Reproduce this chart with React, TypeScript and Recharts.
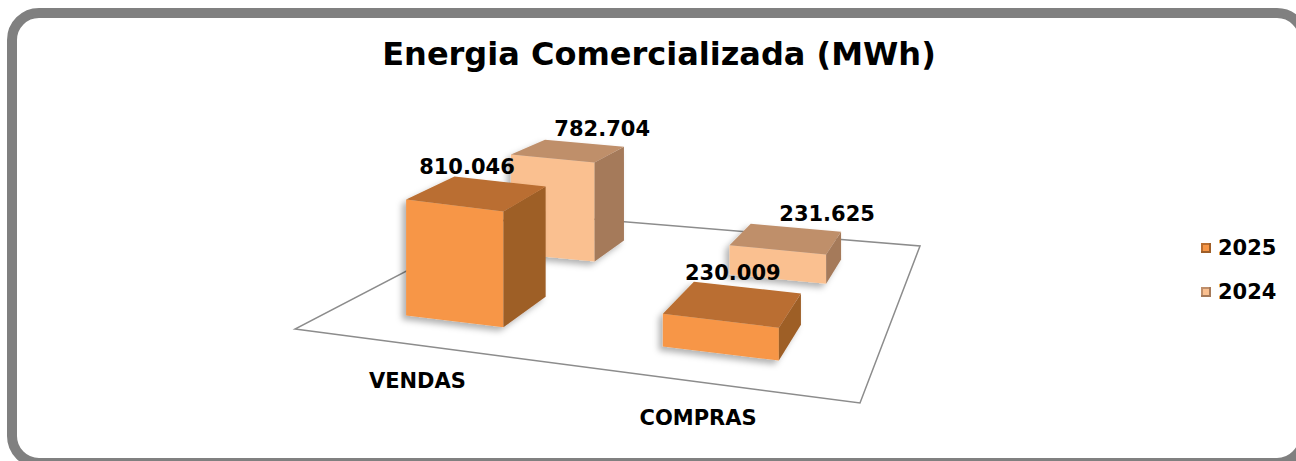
import React from 'react';
import { BarChart, Bar, XAxis, YAxis, Legend, LabelList, Customized } from 'recharts';

const categories = ['VENDAS', 'COMPRAS'];
const seriesNames = ['2025', '2024'];
const values2025 = [810046, 230009];
const values2024 = [782704, 231625];

const data = categories.map((name, i) => ({ name, v2025: values2025[i], v2024: values2024[i] }));

const FONT = '"DejaVu Sans", Verdana, sans-serif';
const CHART_W = 1296;
const CHART_H = 461;
const X_AXIS_H = 30;
const MARGIN = { top: 150, right: 150, bottom: 168 - X_AXIS_H, left: 150 };
const PLOT_W = CHART_W - MARGIN.left - MARGIN.right;
const Y_MAX = 1000000;

// screen corners of the 3D floor: front-left, front-right, back-right, back-left
const FLOOR = [[295, 329], [860, 403], [920, 246], [518, 213]];
const BAR_DEPTH = 0.2;

const COLORS: Record<string, { front: string; top: string; side: string }> = {
  '2025': { front: '#F79646', top: '#BA6E30', side: '#9E5E28' },
  '2024': { front: '#FAC090', top: '#BF8F6B', side: '#A57A5A' },
};
const ROW: Record<string, number> = { '2025': 0.24, '2024': 0.72 };
const LABEL_DX: Record<string, number> = { '2025': 13, '2024': 50 };

// unit square (u along categories, v into depth) -> floor quad
const homography = () => {
  const [[x0, y0], [x1, y1], [x2, y2], [x3, y3]] = FLOOR;
  const dx1 = x1 - x2, dx2 = x3 - x2, dx3 = x0 - x1 + x2 - x3;
  const dy1 = y1 - y2, dy2 = y3 - y2, dy3 = y0 - y1 + y2 - y3;
  const den = dx1 * dy2 - dx2 * dy1;
  const g = (dx3 * dy2 - dx2 * dy3) / den;
  const h = (dx1 * dy3 - dx3 * dy1) / den;
  const a = x1 - x0 + g * x1, b = x3 - x0 + h * x3;
  const d = y1 - y0 + g * y1, e = y3 - y0 + h * y3;
  return (u: number, v: number): [number, number] => {
    const w = g * u + h * v + 1;
    return [(a * u + b * v + x0) / w, (d * u + e * v + y0) / w];
  };
};
const project = homography();
const depthScale = (v: number) => 1 - 0.24 * (v - 0.14);

const fmt = (n: number) => String(n).replace(/\B(?=(\d{3})+(?!\d))/g, '.');

const pts = (list: [number, number][]) => list.map((p) => p.join(',')).join(' ');

// eslint-disable-next-line @typescript-eslint/no-explicit-any
const Box3D = (props: any) => {
  const { x, width, height, series } = props;
  if (x == null || !width) return null;
  const c = COLORS[series];
  const uc = (x + width / 2 - MARGIN.left) / PLOT_W;
  const bw = width / PLOT_W;
  const u0 = uc - bw / 2, u1 = uc + bw / 2;
  const v0 = ROW[series] - BAR_DEPTH / 2, v1 = ROW[series] + BAR_DEPTH / 2;
  const base = (u: number, v: number) => project(u, v);
  const top = (u: number, v: number): [number, number] => {
    const [px, py] = project(u, v);
    return [px, py - height * depthScale(v)];
  };
  return (
    <g filter="url(#boxShadow)">
      <polygon points={pts([base(u0, v0), base(u1, v0), top(u1, v0), top(u0, v0)])} fill={c.front} />
      <polygon points={pts([base(u1, v0), base(u1, v1), top(u1, v1), top(u1, v0)])} fill={c.side} />
      <polygon points={pts([top(u0, v0), top(u1, v0), top(u1, v1), top(u0, v1)])} fill={c.top} />
    </g>
  );
};

// eslint-disable-next-line @typescript-eslint/no-explicit-any
const BarLabel = (props: any) => {
  const { x, width, height, value, series } = props;
  if (x == null || !width) return null;
  const uc = (x + width / 2 - MARGIN.left) / PLOT_W;
  const v0 = ROW[series] - BAR_DEPTH / 2, v1 = ROW[series] + BAR_DEPTH / 2;
  const [fx] = project(uc, v0);
  const [, by] = project(uc, v1);
  return (
    <text
      x={fx + LABEL_DX[series]}
      y={by - height * depthScale(v1) - 14}
      textAnchor="middle"
      dominantBaseline="central"
      fontFamily={FONT}
      fontWeight="bold"
      fontSize={21}
      fill="#000"
    >
      {fmt(value)}
    </text>
  );
};

// eslint-disable-next-line @typescript-eslint/no-explicit-any
const CategoryTick = (props: any) => {
  const { x, payload } = props;
  const [px, py] = project((x - MARGIN.left) / PLOT_W, 0);
  return (
    <text x={px} y={py + 36} textAnchor="middle" dominantBaseline="central"
      fontFamily={FONT} fontWeight="bold" fontSize={21} fill="#000">
      {payload.value}
    </text>
  );
};

const FloorLayer = () => (
  <g>
    <defs>
      <filter id="boxShadow" x="-30%" y="-30%" width="160%" height="160%">
        <feDropShadow dx={-4} dy={4} stdDeviation={3} floodColor="#000" floodOpacity={0.3} />
      </filter>
    </defs>
    <text x={659} y={65} textAnchor="middle" fontFamily={FONT} fontWeight="bold" fontSize={32} fill="#000">
      Energia Comercializada (MWh)
    </text>
    <polygon
      points={pts([project(0, 0), project(1, 0), project(1, 1), project(0, 1)])}
      fill="#fff"
      stroke="#8c8c8c"
      strokeWidth={1.5}
    />
  </g>
);

const renderLegend = () => (
  <div style={{ fontFamily: FONT, fontWeight: 'bold', fontSize: 21, color: '#000' }}>
    {seriesNames.map((s) => (
      <div key={s} style={{ display: 'flex', alignItems: 'center', height: 44 }}>
        <span
          style={{
            display: 'inline-block',
            width: 10,
            height: 10,
            background: COLORS[s].front,
            boxShadow: `inset -2px -2px 0 ${COLORS[s].side}, inset 2px 2px 0 ${COLORS[s].top}`,
          }}
        />
        <span style={{ marginLeft: 7 }}>{s}</span>
      </div>
    ))}
  </div>
);

const App: React.FC = () => {
  return (
    <div style={{ position: 'fixed', left: 0, top: 0, width: CHART_W, height: CHART_H, overflow: 'hidden', background: '#fff' }}>
      <div
        style={{
          position: 'absolute',
          left: 7,
          top: 8,
          width: 1302,
          height: 460,
          boxSizing: 'border-box',
          border: '10px solid #808080',
          borderRadius: 32,
        }}
      />
      <div style={{ position: 'absolute', left: 0, top: 0 }}>
        <BarChart width={CHART_W} height={CHART_H} data={data} margin={MARGIN} barCategoryGap="30%">
          <Customized component={FloorLayer} />
          <XAxis xAxisId="back" dataKey="name" hide />
          <XAxis
            xAxisId="front"
            dataKey="name"
            height={X_AXIS_H}
            axisLine={false}
            tickLine={false}
            tick={(p: any) => <CategoryTick {...p} />}
            interval={0}
          />
          <YAxis hide domain={[0, Y_MAX]} />
          <Legend
            layout="horizontal"
            verticalAlign="middle"
            align="center"
            wrapperStyle={{ left: 1201, top: 226, width: 95 }}
            content={renderLegend}
          />
          <Bar
            xAxisId="back"
            dataKey="v2024"
            name="2024"
            isAnimationActive={false}
            shape={(p: any) => <Box3D {...p} series="2024" />}
          >
            <LabelList dataKey="v2024" content={(p: any) => <BarLabel {...p} series="2024" />} />
          </Bar>
          <Bar
            xAxisId="front"
            dataKey="v2025"
            name="2025"
            isAnimationActive={false}
            shape={(p: any) => <Box3D {...p} series="2025" />}
          >
            <LabelList dataKey="v2025" content={(p: any) => <BarLabel {...p} series="2025" />} />
          </Bar>
        </BarChart>
      </div>
    </div>
  );
};

export default App;
